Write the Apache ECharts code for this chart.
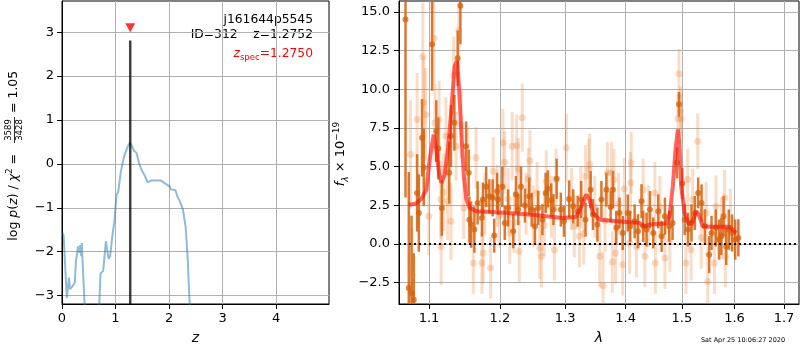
<!DOCTYPE html>
<html>
<head>
<meta charset="utf-8">
<script src="https://cdn.jsdelivr.net/npm/echarts@6/dist/echarts.min.js"></script>
<style>
html, body { margin: 0; padding: 0; background: #fff; }
#main { width: 800px; height: 350px; }
</style>
</head>
<body>
<div id="main"></div>
<script>
// p(z) panel
var zGrid = [0.01,0.03,0.09,0.13,0.15,0.20,0.24,0.26,0.30,0.33,0.34,0.36,0.37,0.39,0.43,0.69,0.72,0.77,0.80,0.82,0.84,0.87,0.90,0.94,0.98,1.02,1.05,1.10,1.16,1.23,1.27,1.31,1.35,1.39,1.44,1.49,1.54,1.60,1.66,1.75,1.85,1.91,2.01,2.04,2.12,2.16,2.21,2.26,2.31,2.35,2.39,2.45];
var logPz = [-1.57,-1.62,-3.05,-2.59,-2.85,-2.78,-2.70,-2.21,-1.88,-2.03,-1.85,-2.10,-1.80,-2.35,-3.4,-3.4,-2.49,-2.44,-2.40,-1.76,-1.73,-2.16,-2.10,-1.65,-1.30,-0.70,-0.64,-0.17,0.17,0.40,0.49,0.40,0.29,0.26,0.02,-0.15,-0.25,-0.42,-0.38,-0.38,-0.38,-0.43,-0.51,-0.58,-0.60,-0.75,-0.87,-1.04,-1.42,-2.18,-3.3,-4.5];
var zBest = 1.2752, zSpec = 1.2750;
var zLineTop = 2.81, zMarkY = 3.1;
var zTicks = [0, 1, 2, 3, 4];
var pzTicks = [-3, -2, -1, 0, 1, 2, 3];

// spectrum panel
var darkWave = [1.0688,1.0731,1.0767,1.0797,1.0841,1.0864,1.0907,1.0930,1.1042,1.1099,1.1127,1.1175,1.1277,1.1301,1.1348,1.1394,1.1432,1.1513,1.1549,1.1559,1.1583,1.1630,1.1676,
  1.1738,1.1752,1.1799,1.1845,1.1893,1.1916,1.1958,1.1972,1.2036,1.2071,1.2121,1.2197,1.2238,1.2273,1.2314,1.2374,1.2439,1.2476,1.2526,1.2576,1.2642,1.2692,1.2727,1.2779,1.2814,1.2864,
  1.2930,1.2980,1.3062,1.3128,1.3200,1.3257,1.3328,1.3412,1.3450,1.3523,1.3590,1.3673,1.3745,1.3783,1.3840,1.3895,1.3950,1.4036,1.4079,1.4155,1.4214,
  1.4275,1.4304,1.4364,1.4423,1.4482,1.4571,1.4632,1.4691,1.4768,1.4829,1.4911,1.4946,1.5008,1.5051,1.5113,1.5177,1.5240,1.5302,1.5366,1.5428,1.5510,1.5555,1.5636,1.5698,
  1.5743,1.5787,1.5838,1.5887,1.5951,1.6013,1.6075];
var darkFlux = [14.5,-2.85,-3.17,-3.6,3.30,2.0,6.86,4.94,12.9,7.29,6.17,2.33,4.6,6.97,7.83,12.0,15.4,6.32,4.6,1.57,1.25,0.93,2.65,
  1.68,2.87,3.69,3.08,2.98,0.54,3.40,2.87,3.69,1.36,2.33,0.82,3.19,2.22,3.69,2.48,3.08,2.22,1.14,2.33,1.57,3.30,3.56,2.82,2.22,4.21,
  2.22,1.46,2.91,2.43,2.11,2.87,1.57,3.51,1.90,1.25,2.87,3.51,2.39,3.51,1.04,2.0,0.71,2.0,1.14,1.46,0.82,
  2.76,1.14,0.93,2.22,0.71,2.11,0.49,1.79,1.14,1.36,5.24,9.02,3.90,1.57,0.93,1.36,2.0,3.30,2.65,1.14,-0.69,0.71,1.04,0.28,
  0.49,1.79,-0.16,0.93,0.71,0.28,0.39];
var darkErr = [11.5,7.5,5,3,2.5,2.5,2.5,2.5,3,2,2,1.8,2,2,1.8,1.8,2.5,1.6,1.5,1.5,1.5,1.5,1.4,
  1.2,1.1,1.3,1.1,1.2,1.1,1.2,1.0,1.3,1.1,1.2,1.1,1.2,1.0,1.3,1.1,1.2,1.1,1.2,1.1,1.0,1.3,1.2,1.1,1.0,1.3,
  1.1,1.0,1.2,1.1,1.0,1.2,1.1,1.2,1.0,1.1,1.2,1.1,1.0,1.2,1.1,1.0,1.1,1.2,1.0,1.1,1.1,
  1.1,1.0,1.1,1.2,1.0,1.1,1.0,1.2,1.0,1.1,1.0,0.8,1.0,1.0,1.1,1.2,1.1,1.0,1.2,1.1,1.2,1.1,1.2,1.3,
  1.2,1.3,1.2,1.3,1.2,1.3,1.2];

var lightWave = [1.0754,1.0775,1.0841,1.0917,1.0930,1.0953,1.0996,1.1066,1.1080,1.1137,1.1161,1.1165,1.1197,1.1231,1.1254,1.1301,1.1338,1.1372,1.1408,1.1442,1.1479,1.1535,1.1615,1.1654,
  1.1738,1.1755,1.1780,1.1863,1.1901,1.1960,1.1990,1.2045,1.2071,1.2120,1.2146,1.2182,1.2210,1.2249,1.2273,1.2288,1.2333,1.2390,1.2424,1.2450,1.2500,1.2560,1.2601,1.2627,1.2670,1.2701,1.2780,1.2829,1.2855,
  1.3017,1.3100,1.3145,1.3228,1.3250,1.3300,1.3328,1.3383,1.3395,1.3480,1.3562,1.3617,1.3650,1.3690,1.3757,1.3773,1.3800,1.3828,1.3880,1.3950,1.3978,1.4066,1.4084,1.4096,1.4185,
  1.4304,1.4334,1.4400,1.4511,1.4520,1.4600,1.4691,1.4780,1.4929,1.4946,1.4975,1.4989,1.5075,1.5106,1.5170,1.5200,1.5294,1.5360,1.5453,1.5483,1.5610,1.5640,
  1.5743,1.5806,1.5820,1.5920];
var lightFlux = [5.78,-1.99,8.05,12.1,9.13,8.37,1.79,13.3,7.83,8.05,2.87,-0.16,3.34,6.97,2.76,1.46,10.9,6.32,13.8,7.72,2.33,5.57,-1.23,5.57,
  -1.23,-0.58,2.6,-1.55,4.70,3.1,1.79,6.54,5.28,2.9,0.71,6.32,1.4,6.36,4.85,-0.48,8.16,2.6,4.21,5.37,1.79,3.3,-0.26,-0.80,1.2,4.05,2.4,-0.37,4.16,
  6.21,2.9,1.14,0.49,3.0,0.67,4.38,4.81,5.13,2.4,-0.80,-2.70,1.5,4.60,4.60,-1.17,4.16,-0.58,2.6,-1.34,3.56,0.06,3.95,5.24,-0.16,
  3.51,-0.80,1.8,3.30,-1.23,2.4,-0.91,0.2,8.09,11.0,8.58,8.09,-1.23,4.16,-0.37,2.87,6.64,0.4,2.0,-2.42,-1.23,2.43,
  1.0,2.98,-0.80,1.57];
var lightErr = [3.5,3,3,3.5,3,3,2.5,3,2.5,2.5,2.5,2.5,2.5,2.5,2.5,2.5,2.5,2.2,2.5,2.2,2,2,2,2,
  2,2,2,2,2.2,2,2,2.2,2,2,2,2.2,2,2,2,2,2.2,2,2,2,2,2,2,2,2,2,2,2,2,
  2.2,2,2,2,2,2,2,2,2,2,2,2.2,2,2,2,2,2,2,2,2,2,2,2,2,2,
  2,2,2,2,2,2,2,2,1.6,1.6,1.6,1.6,2,2,2,2,1.8,2,2,2.2,2,2,
  2,1.8,2,2];

var modelWave = [1.0730,1.0822,1.0898,1.0965,1.1010,1.1064,1.1100,1.1136,1.1168,1.1214,1.1259,1.1306,1.1352,1.1384,1.1412,1.1446,1.1478,1.1516,1.1563,1.1658,1.1947,1.2445,1.2963,1.3178,1.3259,1.3340,1.3395,1.3449,1.3560,1.4068,1.4241,1.4329,1.4417,1.4714,1.4774,1.4834,1.4883,1.4926,1.4956,1.4987,1.5049,1.5128,1.5202,1.5265,1.5314,1.5389,1.5516,1.5901,1.6033];
var modelFlux = [2.54,2.6,2.91,3.51,5.46,7.07,6.10,4.59,3.95,4.49,6.10,8.69,11.5,11.8,10.2,7.18,4.59,2.87,2.33,2.11,2.05,1.90,1.68,1.75,2.43,3.19,2.87,2.0,1.57,1.40,1.35,1.14,1.25,1.32,1.79,3.73,6.10,7.40,6.32,3.73,2.0,1.25,1.46,2.11,1.90,1.14,1.11,1.11,0.71];
var lamTicks = [1.1, 1.2, 1.3, 1.4, 1.5, 1.6, 1.7];
var fluxTicks = [-2.5, 0, 2.5, 5, 7.5, 10, 12.5, 15];

function zip() {
  var cols = Array.prototype.slice.call(arguments);
  return cols[0].map(function (v, i) { return cols.map(function (c) { return c[i]; }); });
}
function minus(s) { return String(s).replace('-', '\u2212'); }
function errBars(color, width) {
  return function (params, api) {
    var lo = api.coord([api.value(0), api.value(1) - api.value(2)]);
    var hi = api.coord([api.value(0), api.value(1) + api.value(2)]);
    return {type: 'line', shape: {x1: lo[0], y1: lo[1], x2: hi[0], y2: hi[1]},
      style: {stroke: color, lineWidth: width}};
  };
}

var FONT = 'DejaVu Sans';
var gridLine = {show: true, lineStyle: {color: '#b0b0b0', width: 1}};
var tick = function (vals) { return {show: true, inside: false, length: 5, customValues: vals, lineStyle: {color: '#000'}}; };

var myChart = echarts.init(document.getElementById('main'));
var option = {
  animation: false,
  textStyle: {fontFamily: FONT},
  grid: [
    {left: 62, top: 1, width: 267, height: 303, show: true, borderColor: '#000', borderWidth: 1},
    {left: 399, top: 1, width: 400, height: 303, show: true, borderColor: '#000', borderWidth: 1}
  ],
  xAxis: [
    {
      type: 'value', gridIndex: 0, min: 0, max: 4.99,
      axisLine: {onZero: false, lineStyle: {color: '#000'}},
      axisTick: tick(zTicks),
      axisLabel: {customValues: zTicks, color: '#000', fontSize: 13, margin: 8},
      splitLine: gridLine,
      name: 'z', nameLocation: 'middle', nameGap: 27,
      nameTextStyle: {color: '#000', fontSize: 14, fontStyle: 'italic'}
    },
    {
      type: 'log', logBase: 10, gridIndex: 1, min: 1.0603, max: 1.7316,
      axisLine: {onZero: false, lineStyle: {color: '#000'}},
      axisTick: tick(lamTicks),
      axisLabel: {customValues: lamTicks, color: '#000', fontSize: 13, margin: 8,
        formatter: function (v) { return v.toFixed(1); }},
      splitLine: gridLine,
      name: '\u03bb', nameLocation: 'middle', nameGap: 27,
      nameTextStyle: {color: '#000', fontSize: 14, fontStyle: 'italic'}
    }
  ],
  yAxis: [
    {
      type: 'value', gridIndex: 0, min: -3.19, max: 3.71,
      axisLine: {show: true, onZero: false, lineStyle: {color: '#000'}},
      axisTick: tick(pzTicks),
      axisLabel: {customValues: pzTicks, color: '#000', fontSize: 13, margin: 8,
        formatter: function (v) { return minus(v); }},
      splitLine: gridLine
    },
    {
      type: 'value', gridIndex: 1, min: -3.88, max: 15.7,
      axisLine: {show: true, onZero: false, lineStyle: {color: '#000'}},
      axisTick: tick(fluxTicks),
      axisLabel: {customValues: fluxTicks, color: '#000', fontSize: 13, margin: 9,
        formatter: function (v) { return minus(v.toFixed(1)); }},
      splitLine: gridLine
    }
  ],
  series: [
    {
      type: 'line', xAxisIndex: 0, yAxisIndex: 0, data: zip(zGrid, logPz),
      showSymbol: false, clip: true,
      lineStyle: {color: 'rgba(31,119,180,0.5)', width: 2}
    },
    {
      type: 'line', xAxisIndex: 0, yAxisIndex: 0, data: [[zBest, -3.19], [zBest, zLineTop]],
      showSymbol: false, lineStyle: {color: 'rgba(0,0,0,0.75)', width: 2.5}
    },
    {
      type: 'scatter', xAxisIndex: 0, yAxisIndex: 0, data: [[zSpec, zMarkY]],
      symbol: 'triangle', symbolRotate: 180, symbolSize: [10, 9],
      itemStyle: {color: '#ff0000'}
    },
    {
      type: 'custom', xAxisIndex: 1, yAxisIndex: 1, clip: true,
      data: zip(lightWave, lightFlux, lightErr), encode: {x: 0, y: 1},
      renderItem: errBars('rgba(232,128,50,0.27)', 3)
    },
    {
      type: 'scatter', xAxisIndex: 1, yAxisIndex: 1, clip: true,
      data: zip(lightWave, lightFlux), symbolSize: 7,
      itemStyle: {color: 'rgba(232,128,50,0.35)'}
    },
    {
      type: 'custom', xAxisIndex: 1, yAxisIndex: 1, clip: true,
      data: zip(darkWave, darkFlux, darkErr), encode: {x: 0, y: 1},
      renderItem: errBars('rgba(214,98,12,0.85)', 2.5)
    },
    {
      type: 'scatter', xAxisIndex: 1, yAxisIndex: 1, clip: true,
      data: zip(darkWave, darkFlux), symbolSize: 6,
      itemStyle: {color: 'rgba(214,98,12,0.95)'}
    },
    {
      type: 'line', xAxisIndex: 1, yAxisIndex: 1, data: zip(modelWave, modelFlux),
      showSymbol: false, clip: true,
      lineStyle: {color: 'rgba(255,20,10,0.65)', width: 4},
      markLine: {
        silent: true, symbol: 'none', label: {show: false},
        lineStyle: {color: '#000', type: [2, 3], width: 2},
        data: [{yAxis: 0}]
      }
    }
  ],
  graphic: [
    {type: 'text', x: 313, y: 20, style: {text: 'j161644p5545', fill: '#000', font: '12.3px "DejaVu Sans"', align: 'right', verticalAlign: 'middle'}},
    {type: 'text', x: 313, y: 35, style: {text: 'ID=312    z=' + zBest.toFixed(4), fill: '#000', font: '12.3px "DejaVu Sans"', align: 'right', verticalAlign: 'middle'}},
    {type: 'text', x: 313, y: 54, style: {
      text: '{i|z}{s|spec}{t|=' + zSpec.toFixed(4) + '}', align: 'right', verticalAlign: 'middle',
      rich: {
        i: {fill: '#ff0000', fontFamily: FONT, fontSize: 12.3, fontStyle: 'italic', lineHeight: 16, verticalAlign: 'middle'},
        s: {fill: '#ff0000', fontFamily: FONT, fontSize: 8.5, lineHeight: 8, verticalAlign: 'bottom'},
        t: {fill: '#ff0000', fontFamily: FONT, fontSize: 12.3, lineHeight: 16, verticalAlign: 'middle'}
      }}},
    {type: 'group', x: 14, y: 154, rotation: Math.PI / 2, children: [
      {type: 'text', x: 4, y: 0, style: {
        text: '{t|log }{i|p}{t|(}{i|z}{t|) / }{i|\u03c7}{p|2}{t| = }', align: 'right', verticalAlign: 'middle',
        rich: {
          t: {fill: '#000', fontFamily: FONT, fontSize: 12.5, lineHeight: 18, verticalAlign: 'middle'},
          i: {fill: '#000', fontFamily: FONT, fontSize: 12.5, fontStyle: 'italic', lineHeight: 18, verticalAlign: 'middle'},
          p: {fill: '#000', fontFamily: FONT, fontSize: 8.5, lineHeight: 9, verticalAlign: 'top'}
        }}},
      {type: 'text', x: 24, y: -5, style: {text: '3589', fill: '#000', font: '8.5px "DejaVu Sans"', align: 'center', verticalAlign: 'middle'}},
      {type: 'line', shape: {x1: 11, y1: 0.5, x2: 37, y2: 0.5}, style: {stroke: '#000', lineWidth: 0.8}},
      {type: 'text', x: 24, y: 5.5, style: {text: '3428', fill: '#000', font: '8.5px "DejaVu Sans"', align: 'center', verticalAlign: 'middle'}},
      {type: 'text', x: 41, y: 0, style: {text: '= 1.05', fill: '#000', font: '12.5px "DejaVu Sans"', align: 'left', verticalAlign: 'middle'}}
    ]},
    {type: 'text', x: 341, y: 154, rotation: Math.PI / 2, style: {
      text: '{i|f}{s|\u03bb}{t| \u00d7 10}{p|\u221219}', align: 'center', verticalAlign: 'middle',
      rich: {
        i: {fill: '#000', fontFamily: FONT, fontSize: 13, fontStyle: 'italic', lineHeight: 18, verticalAlign: 'middle'},
        s: {fill: '#000', fontFamily: FONT, fontSize: 9, fontStyle: 'italic', lineHeight: 9, verticalAlign: 'bottom'},
        t: {fill: '#000', fontFamily: FONT, fontSize: 13, lineHeight: 18, verticalAlign: 'middle'},
        p: {fill: '#000', fontFamily: FONT, fontSize: 9, lineHeight: 9, verticalAlign: 'top'}
      }}},
    {type: 'text', x: 743, y: 340, style: {text: 'Sat Apr 25 10:06:27 2020', fill: '#000', font: '6.5px "DejaVu Sans"', align: 'center', verticalAlign: 'middle'}}
  ]
};
myChart.setOption(option);
</script>
</body>
</html>
